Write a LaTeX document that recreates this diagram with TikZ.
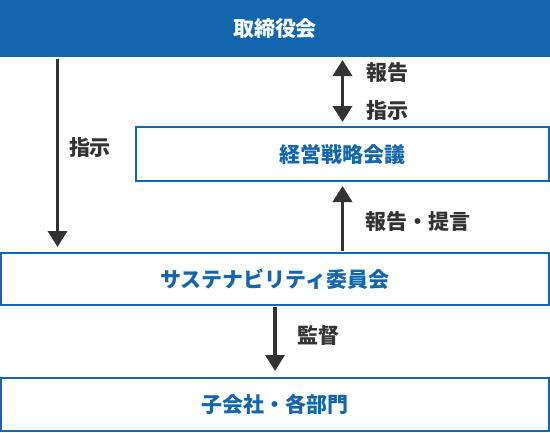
\documentclass[tikz,border=0pt]{standalone}
\usepackage{fontspec}
\setmainfont{Noto Sans CJK JP}
\usepackage{xcolor}
\usepackage{tikz}
\usetikzlibrary{positioning,calc,arrows.meta}
\definecolor{CorpBlue}{RGB}{20,102,172}
\definecolor{ArrowGray}{RGB}{51,51,51}
\tikzset{
    orgbox/.style={rectangle, draw=CorpBlue, fill=white, text=CorpBlue, line width=2pt, inner sep=0pt, font=\bfseries\fontsize{21}{25}\selectfont},
    flow/.style={draw=ArrowGray, line width=3.5pt, -{Triangle[width=19pt,length=16pt]}},
    flowlabel/.style={text=ArrowGray, inner sep=0pt, font=\bfseries\fontsize{21}{25}\selectfont}
}

\begin{document}
\begin{tikzpicture}[
        x=1pt, y=-1pt,
        % --- STYLE HOP ---
        headbox/.style={
            orgbox,
            draw=none,
            fill=CorpBlue,
            text=white
        },
        % mui ten hai chieu
        twoway/.style={
            flow,
            {Triangle[width=19pt,length=16pt]}-{Triangle[width=19pt,length=16pt]}
        }
    ]
        \useasboundingbox (0,0) rectangle (550,432);

        % --- CAC HOP ---
        \node[headbox, minimum width=550pt, minimum height=57pt] (board) at (275,28.5) {取締役会};
        \node[orgbox, minimum width=413pt, minimum height=54pt] (strategy) at (342.5,154) {経営戦略会議};
        \node[orgbox, minimum width=548pt, minimum height=52pt] (sustain) at (275,279) {サステナビリティ委員会};
        \node[orgbox, minimum width=548pt, minimum height=53pt] (group) at (275,404.5) {子会社・各部門};

        % --- MUI TEN ---
        \coordinate (lx) at (57.5,0);
        \draw[flow, shorten <=1pt, shorten >=5pt] (board.south -| lx) -- (sustain.north -| lx);
        \draw[twoway, shorten <=2pt, shorten >=4pt] (strategy.north |- board.south) -- (strategy.north);
        \draw[flow, shorten <=1pt, shorten >=4pt] (strategy.south |- sustain.north) -- (strategy.south);
        \draw[flow, shorten <=1pt, shorten >=6pt] (sustain.south) -- (group.north);

        % --- NHAN ---
        \node[flowlabel] (lblLeft) at (90,148) {指示};
        \node[flowlabel] (lblReport) at (387,73) {報告};
        \node[flowlabel] (lblOrder) at (387,111) {指示};
        \node[flowlabel, anchor=west] (lblPropose) at (365,222) {報告・提言};
        \node[flowlabel] (lblAudit) at (318,336) {監督};

    \end{tikzpicture}
\end{document}
